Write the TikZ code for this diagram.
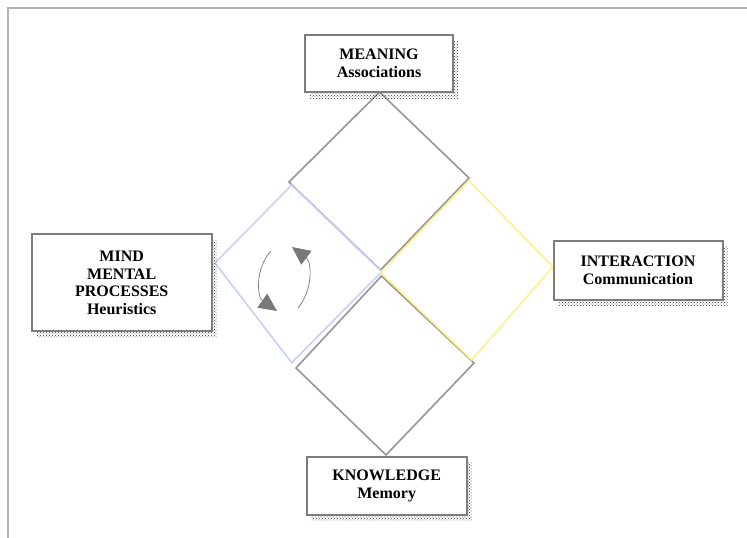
\documentclass[tikz,border=0pt]{standalone}
\usepackage{fontspec}
\setmainfont{Liberation Serif}
\usetikzlibrary{shadows,patterns,arrows.meta}
\definecolor{framegray}{RGB}{178,178,178}
\definecolor{boxgray}{RGB}{125,125,125}
\definecolor{diagray}{RGB}{150,150,150}
\definecolor{diablue}{RGB}{198,208,248}
\definecolor{diayellow}{RGB}{255,240,140}
\definecolor{arrowgray}{RGB}{120,120,120}
\tikzset{
  labelbox/.style={draw=boxgray, line width=2pt, fill=white, align=center,
    font=\bfseries\fontsize{16}{17.6}\selectfont, inner sep=0pt,
    general shadow={shadow xshift=5pt, shadow yshift=-6pt,
      pattern=crosshatch dots, pattern color=black!80}},
  diaedge/.style={line width=1.6pt, line join=miter},
  cycarrow/.style={draw=arrowgray, line width=0.7pt,
    -{Triangle[length=18pt,width=17pt]}, arrowgray}
}
\begin{document}
\begin{tikzpicture}[x=1pt,y=-1pt]
\useasboundingbox (0,0) rectangle (747,538);
% frame
\draw[framegray, line width=1.8pt] (8,538) -- (8,8) -- (747,8);
% diamonds
\draw[diaedge, diagray] (379.5,92) -- (469,178) -- (380.5,270) -- (289,182) -- cycle;
\draw[diaedge, diagray] (381.5,276) -- (474,363) -- (386,455) -- (296,368) -- cycle;
\draw[diaedge, diablue] (291.7,185) -- (381.7,271.7) -- (291.7,362.7) -- (215,263) -- cycle;
\draw[diaedge, diayellow] (468.7,180.7) -- (553,266.7) -- (471.7,360) -- (380.7,272.7) -- cycle;
% cycle arrows
\coordinate (la) at (271,251);
\coordinate (lb) at (277,311);
\coordinate (ra) at (298,308);
\coordinate (rb) at (292,247);
\draw[cycarrow] (la) .. controls (255,268) and (257,297) .. (lb);
\draw[cycarrow] (ra) .. controls (313,290) and (312,262) .. (rb);
% boxes
\node[labelbox, minimum width=148pt, minimum height=57pt] (meaning) at (379,63.5) {MEANING\\Associations};
\node[labelbox, minimum width=180pt, minimum height=97pt] (mind) at (121.7,282.7) {MIND\\MENTAL\\PROCESSES\\Heuristics};
\node[labelbox, minimum width=169pt, minimum height=59pt] (interaction) at (638,270) {INTERACTION\\Communication};
\node[labelbox, minimum width=160pt, minimum height=58pt] (knowledge) at (386.7,485.8) {KNOWLEDGE\\Memory};
\end{tikzpicture}
\end{document}
